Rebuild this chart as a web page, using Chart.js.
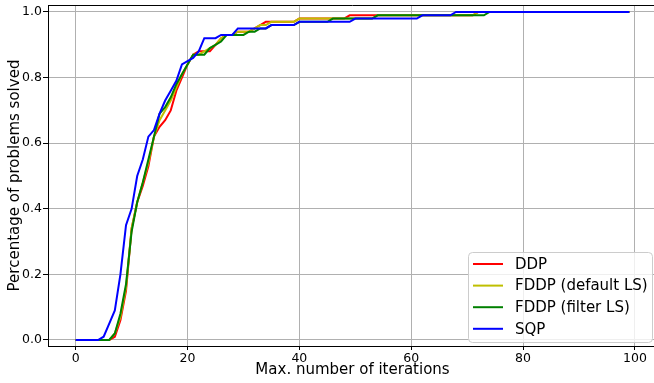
<!DOCTYPE html>
<html>
<head>
<meta charset="utf-8">
<script src="https://cdn.jsdelivr.net/npm/chart.js@4.4.0/dist/chart.umd.min.js"></script>
<style>
  html, body { margin: 0; padding: 0; background: #fff; overflow: hidden; }
  #grafico { display: block; }
</style>
</head>
<body>
<canvas id="grafico" width="660" height="383"></canvas>
<script>
// iterations 0..99 on the x axis
const iteracoes = Array.from({ length: 100 }, (_, i) => i);

const ddp = [
  0, 0, 0, 0, 0, 0, 0, 0.01, 0.06, 0.15,
  0.34, 0.42, 0.47, 0.53, 0.62, 0.65, 0.67, 0.70, 0.76, 0.80,
  0.84, 0.87, 0.88, 0.88, 0.88, 0.90, 0.92, 0.93, 0.93, 0.94,
  0.94, 0.94, 0.95, 0.96, 0.97, 0.97, 0.97, 0.97, 0.97, 0.97,
  0.98, 0.98, 0.98, 0.98, 0.98, 0.98, 0.98, 0.98, 0.98, 0.99,
  0.99, 0.99, 0.99, 0.99, 0.99, 0.99, 0.99, 0.99, 0.99, 0.99,
  0.99, 0.99, 0.99, 0.99, 0.99, 0.99, 0.99, 0.99, 0.99, 0.99,
  0.99, 0.99, 1, 1, 1, 1, 1, 1, 1, 1,
  1, 1, 1, 1, 1, 1, 1, 1, 1, 1,
  1, 1, 1, 1, 1, 1, 1, 1, 1, 1
];

const fddpDefault = [
  0, 0, 0, 0, 0, 0, 0, 0.02, 0.07, 0.16,
  0.34, 0.42, 0.48, 0.54, 0.62, 0.67, 0.70, 0.73, 0.77, 0.81,
  0.84, 0.87, 0.87, 0.88, 0.89, 0.90, 0.92, 0.93, 0.93, 0.94,
  0.94, 0.94, 0.95, 0.96, 0.96, 0.97, 0.97, 0.97, 0.97, 0.97,
  0.98, 0.98, 0.98, 0.98, 0.98, 0.98, 0.98, 0.98, 0.98, 0.98,
  0.98, 0.98, 0.98, 0.98, 0.99, 0.99, 0.99, 0.99, 0.99, 0.99,
  0.99, 0.99, 0.99, 0.99, 0.99, 0.99, 0.99, 0.99, 0.99, 0.99,
  0.99, 0.99, 1, 1, 1, 1, 1, 1, 1, 1,
  1, 1, 1, 1, 1, 1, 1, 1, 1, 1,
  1, 1, 1, 1, 1, 1, 1, 1, 1, 1
];

const fddpFilter = [
  0, 0, 0, 0, 0, 0, 0, 0.02, 0.08, 0.17,
  0.33, 0.42, 0.48, 0.55, 0.62, 0.69, 0.71, 0.74, 0.78, 0.81,
  0.84, 0.87, 0.87, 0.87, 0.89, 0.90, 0.91, 0.93, 0.93, 0.93,
  0.93, 0.94, 0.94, 0.95, 0.95, 0.96, 0.96, 0.96, 0.96, 0.96,
  0.97, 0.97, 0.97, 0.97, 0.97, 0.97, 0.98, 0.98, 0.98, 0.98,
  0.98, 0.98, 0.98, 0.98, 0.99, 0.99, 0.99, 0.99, 0.99, 0.99,
  0.99, 0.99, 0.99, 0.99, 0.99, 0.99, 0.99, 0.99, 0.99, 0.99,
  0.99, 0.99, 0.99, 0.99, 1, 1, 1, 1, 1, 1,
  1, 1, 1, 1, 1, 1, 1, 1, 1, 1,
  1, 1, 1, 1, 1, 1, 1, 1, 1, 1
];

const sqp = [
  0, 0, 0, 0, 0, 0.01, 0.05, 0.09, 0.20, 0.35,
  0.40, 0.50, 0.55, 0.62, 0.64, 0.69, 0.73, 0.76, 0.79, 0.84,
  0.85, 0.86, 0.88, 0.92, 0.92, 0.92, 0.93, 0.93, 0.93, 0.95,
  0.95, 0.95, 0.95, 0.95, 0.95, 0.96, 0.96, 0.96, 0.96, 0.96,
  0.97, 0.97, 0.97, 0.97, 0.97, 0.97, 0.97, 0.97, 0.97, 0.97,
  0.98, 0.98, 0.98, 0.98, 0.98, 0.98, 0.98, 0.98, 0.98, 0.98,
  0.98, 0.98, 0.99, 0.99, 0.99, 0.99, 0.99, 0.99, 1, 1,
  1, 1, 1, 1, 1, 1, 1, 1, 1, 1,
  1, 1, 1, 1, 1, 1, 1, 1, 1, 1,
  1, 1, 1, 1, 1, 1, 1, 1, 1, 1
];

const xTicks = [0, 20, 40, 60, 80, 100];
const yTicks = [0, 0.2, 0.4, 0.6, 0.8, 1.0];

const fonte = 'DejaVu Sans';

const serie = (label, valores, cor, ordem) => ({
  label: label,
  data: valores.map((v, i) => ({ x: iteracoes[i], y: v })),
  borderColor: cor,
  backgroundColor: cor,
  borderWidth: 2,
  pointRadius: 0,
  tension: 0,
  fill: false,
  order: ordem
});

// top spine, matplotlib style
const molduraTopo = {
  id: 'molduraTopo',
  afterDraw(chart) {
    const { ctx, chartArea } = chart;
    ctx.save();
    ctx.strokeStyle = '#000';
    ctx.lineWidth = 1;
    ctx.beginPath();
    ctx.moveTo(chartArea.left, chartArea.top + 0.5);
    ctx.lineTo(chartArea.right, chartArea.top + 0.5);
    ctx.stroke();
    ctx.restore();
  }
};

// legend box inside the plot, lower right
const legendaInterna = {
  id: 'legendaInterna',
  afterDraw(chart) {
    const ctx = chart.ctx;
    const caixa = { x: 468, y: 252, w: 184, h: 90 };
    ctx.save();
    ctx.fillStyle = 'rgba(255,255,255,0.8)';
    ctx.strokeStyle = '#cccccc';
    ctx.lineWidth = 1;
    ctx.beginPath();
    ctx.roundRect(caixa.x + 0.5, caixa.y + 0.5, caixa.w, caixa.h, 4);
    ctx.fill();
    ctx.stroke();

    ctx.font = '15px "' + fonte + '"';
    ctx.textBaseline = 'middle';
    chart.data.datasets.forEach((ds, i) => {
      const y = 264 + i * 21.6;
      ctx.strokeStyle = ds.borderColor;
      ctx.lineWidth = 2;
      ctx.beginPath();
      ctx.moveTo(473, y);
      ctx.lineTo(503, y);
      ctx.stroke();
      ctx.fillStyle = '#000';
      ctx.fillText(ds.label, 515, y + 1);
    });
    ctx.restore();
  }
};

new Chart(document.getElementById('grafico'), {
  type: 'line',
  data: {
    datasets: [
      serie('DDP', ddp, '#ff0000', 3),
      serie('FDDP (default LS)', fddpDefault, '#bfbf00', 2),
      serie('FDDP (filter LS)', fddpFilter, '#008000', 1),
      serie('SQP', sqp, '#0000ff', 0)
    ]
  },
  options: {
    responsive: false,
    animation: false,
    layout: { padding: { top: 5, right: 3, left: 0, bottom: 0 } },
    plugins: {
      legend: { display: false },
      tooltip: { enabled: false }
    },
    scales: {
      x: {
        type: 'linear',
        min: -4.95,
        max: 103.95,
        afterBuildTicks: (s) => { s.ticks = xTicks.map(v => ({ value: v })); },
        afterFit: (s) => { s.height = 37; s.paddingLeft = 0; s.paddingRight = 0; },
        grid: { color: '#b0b0b0', lineWidth: 1, tickColor: '#000', tickLength: 4 },
        border: { color: '#000', width: 1 },
        ticks: {
          color: '#000',
          padding: 1,
          maxRotation: 0,
          font: { family: fonte, size: 12.5 },
          callback: (v) => String(v)
        },
        title: {
          display: true,
          text: 'Max. number of iterations',
          color: '#000',
          font: { family: fonte, size: 15 },
          padding: { top: 0, bottom: 4 }
        }
      },
      y: {
        type: 'linear',
        min: -0.0183,
        max: 1.0213,
        afterBuildTicks: (s) => { s.ticks = yTicks.map(v => ({ value: v })); },
        afterFit: (s) => { s.width = 48; s.paddingTop = 0; s.paddingBottom = 0; },
        grid: { color: '#b0b0b0', lineWidth: 1, tickColor: '#000', tickLength: 5 },
        border: { color: '#000', width: 1 },
        ticks: {
          color: '#000',
          padding: 1,
          font: { family: fonte, size: 12.5 },
          callback: (v) => v.toFixed(1)
        },
        title: {
          display: true,
          text: 'Percentage of problems solved',
          color: '#000',
          font: { family: fonte, size: 15 },
          padding: { top: 6, bottom: 0 }
        }
      }
    }
  },
  plugins: [molduraTopo, legendaInterna]
});
</script>
</body>
</html>
